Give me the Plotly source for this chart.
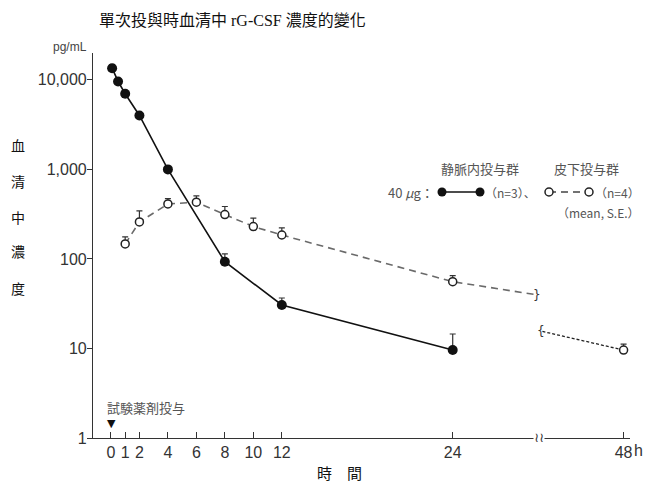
import plotly.graph_objects as go

# ---------------- data ----------------
iv_hours = [0.083, 0.5, 1, 2, 4, 8, 12, 24]
iv_conc = [13500, 9600, 7000, 4000, 1000, 93, 30.6, 9.6]
iv_se = [1300, 0, 0, 0, 0, 21, 6, 4.9]

sc_hours = [1, 2, 4, 6, 8, 10, 12, 24]
sc_conc = [147, 259, 411, 430, 313, 230, 185, 55.7]
sc_se = [29, 85, 60, 76, 72, 56, 37, 9.3]

sc_late_hours = [48]
sc_late_conc = [9.6]
sc_late_se = [1.6]

# dashed line ends at the axis break
sc_gap_hours = [29.8, 42.3]
sc_gap_conc = [40, 15.5]

x_tick_hours = [0, 1, 2, 4, 6, 8, 10, 12, 24, 48]
x_tick_text = ["0", "1", "2", "4", "6", "8", "10", "12", "24", "48"]
y_tick_vals = [1, 10, 100, 1000, 10000]
y_tick_text = ["1", "10", "100", "1,000", "10,000"]

BREAK_START, BREAK_END = 30, 42


def ax(h):
    """map real hours to the broken x axis"""
    return h if h <= BREAK_START else h - (BREAK_END - BREAK_START)


W, H = 646, 490
L, R, T, B = 93, 16, 53, 52
PX0, PX1, PY0, PY1 = L, W - R, T, H - B


def px(x):
    return (x - PX0) / (PX1 - PX0)


def py(y):
    return (PY1 - y) / (PY1 - PY0)


fig = go.Figure()

# IV group
fig.add_trace(go.Scatter(
    x=[ax(h) for h in iv_hours], y=iv_conc, mode="lines+markers",
    line=dict(color="#111111", width=1.6),
    marker=dict(symbol="circle", size=10, color="#111111"),
    error_y=dict(type="data", symmetric=False, array=iv_se,
                 arrayminus=[0] * len(iv_se), color="#333333",
                 thickness=1.2, width=3),
    showlegend=False, cliponaxis=False))

# SC dashed line up to break
fig.add_trace(go.Scatter(
    x=[ax(h) for h in sc_hours] + [ax(sc_gap_hours[0])],
    y=sc_conc + [sc_gap_conc[0]], mode="lines",
    line=dict(color="#6a6a6a", width=1.6, dash="7px,5px"),
    showlegend=False))

# after break: fine dashes
fig.add_trace(go.Scatter(
    x=[ax(sc_gap_hours[1])] + [ax(h) for h in sc_late_hours],
    y=[sc_gap_conc[1]] + sc_late_conc, mode="lines",
    line=dict(color="#222222", width=1.3, dash="3px,2px"),
    showlegend=False))

# SC markers
fig.add_trace(go.Scatter(
    x=[ax(h) for h in sc_hours + sc_late_hours], y=sc_conc + sc_late_conc,
    mode="markers",
    marker=dict(symbol="circle", size=8, color="white",
                line=dict(color="#222222", width=1.5)),
    error_y=dict(type="data", symmetric=False, array=sc_se + sc_late_se,
                 arrayminus=[0] * (len(sc_se) + 1), color="#333333",
                 thickness=1.2, width=3),
    showlegend=False, cliponaxis=False))

# ----- legend glyphs (pixel overlay axes) -----
fig.add_trace(go.Scatter(
    x=[442, 480], y=[192, 192], xaxis="x2", yaxis="y2", mode="lines+markers",
    line=dict(color="#111111", width=1.6),
    marker=dict(size=9, color="#111111"), showlegend=False, cliponaxis=False))
fig.add_trace(go.Scatter(
    x=[549, 589], y=[192, 192], xaxis="x2", yaxis="y2", mode="lines",
    line=dict(color="#444444", width=1.6, dash="7px,5px"),
    showlegend=False, cliponaxis=False))
fig.add_trace(go.Scatter(
    x=[549, 589], y=[192, 192], xaxis="x2", yaxis="y2", mode="markers",
    marker=dict(size=8, color="white", line=dict(color="#222222", width=1.5)),
    showlegend=False, cliponaxis=False))

tick_font = dict(family="Liberation Sans, Arial, sans-serif", size=16, color="#333333")
serif = "Liberation Serif, Noto Sans CJK TC, serif"
gothic = "Noto Sans CJK JP, sans-serif"

fig.update_layout(
    width=W, height=H,
    margin=dict(l=L, r=R, t=T, b=B),
    paper_bgcolor="white", plot_bgcolor="white",
    xaxis=dict(range=[-1.26, 36.45], tickvals=[ax(h) for h in x_tick_hours],
               ticktext=x_tick_text, ticks="inside", ticklen=6, tickwidth=1.2,
               tickcolor="#333333", showline=True, linecolor="#333333",
               linewidth=1.2, showgrid=False, zeroline=False, tickfont=tick_font),
    yaxis=dict(type="log", range=[0, 4.30], tickvals=y_tick_vals,
               ticktext=y_tick_text, ticks="outside", ticklen=5, tickwidth=1.2,
               tickcolor="#333333", showline=True, linecolor="#333333",
               linewidth=1.2, showgrid=False, zeroline=False, tickfont=tick_font,
               ticklabelstandoff=-3),
    xaxis2=dict(overlaying="x", anchor="y2", range=[PX0, PX1], visible=False),
    yaxis2=dict(overlaying="y", anchor="x2", range=[PY1, PY0], visible=False),
)

ann = []


def text(s, x, y, size, color="#111111", family=gothic, xanchor="center", **kw):
    ann.append(dict(text=s, x=px(x), y=py(y), xref="paper", yref="paper",
                    xanchor=xanchor, yanchor="middle", showarrow=False,
                    font=dict(size=size, color=color, family=family), **kw))


text("單次投與時血清中 rG-CSF 濃度的變化", 232, 20, 16, "#111111", serif)
text("pg/mL", 89, 47, 12, "#444444", "Liberation Sans, Arial, sans-serif", xanchor="right")
for ch, yy in zip("血清中濃度", [146, 182, 218, 253, 289]):
    text(ch, 18, yy, 14, "#111111", serif)
text("時　間", 339, 474, 15, "#111111", serif)
text("試験薬剤投与", 146, 407, 13, "#555555")
text("▼", 111, 423, 11, "#111111", "DejaVu Sans")
text("h", 632, 451, 16, "#333333", "Liberation Sans, Arial, sans-serif", xanchor="left")

# legend texts
text("静脈内投与群", 480, 168, 13, "#555555")
text("皮下投与群", 586, 168, 13, "#555555")
text("40 <i>μ</i>g：", 436, 192, 13, "#555555", xanchor="right")
text("（n=3）、", 483, 192, 12, "#555555", xanchor="left")
text("（n=4）", 593, 192, 12, "#555555", xanchor="left")
text("（mean, S.E.）", 555, 212, 12, "#555555", xanchor="left")

# break marks
text("≀≀", 539, 437, 13, "#333333", "DejaVu Sans", bgcolor="white", borderpad=0)
text("}", 537, 295, 12, "#333333", "DejaVu Sans")
text("{", 541, 331, 12, "#333333", "DejaVu Sans")

fig.update_layout(annotations=ann)

fig.write_html("out.html",
               config={"displayModeBar": False},
               post_script="document.body.style.margin='0px';"
                           "document.body.style.overflow='hidden';")
